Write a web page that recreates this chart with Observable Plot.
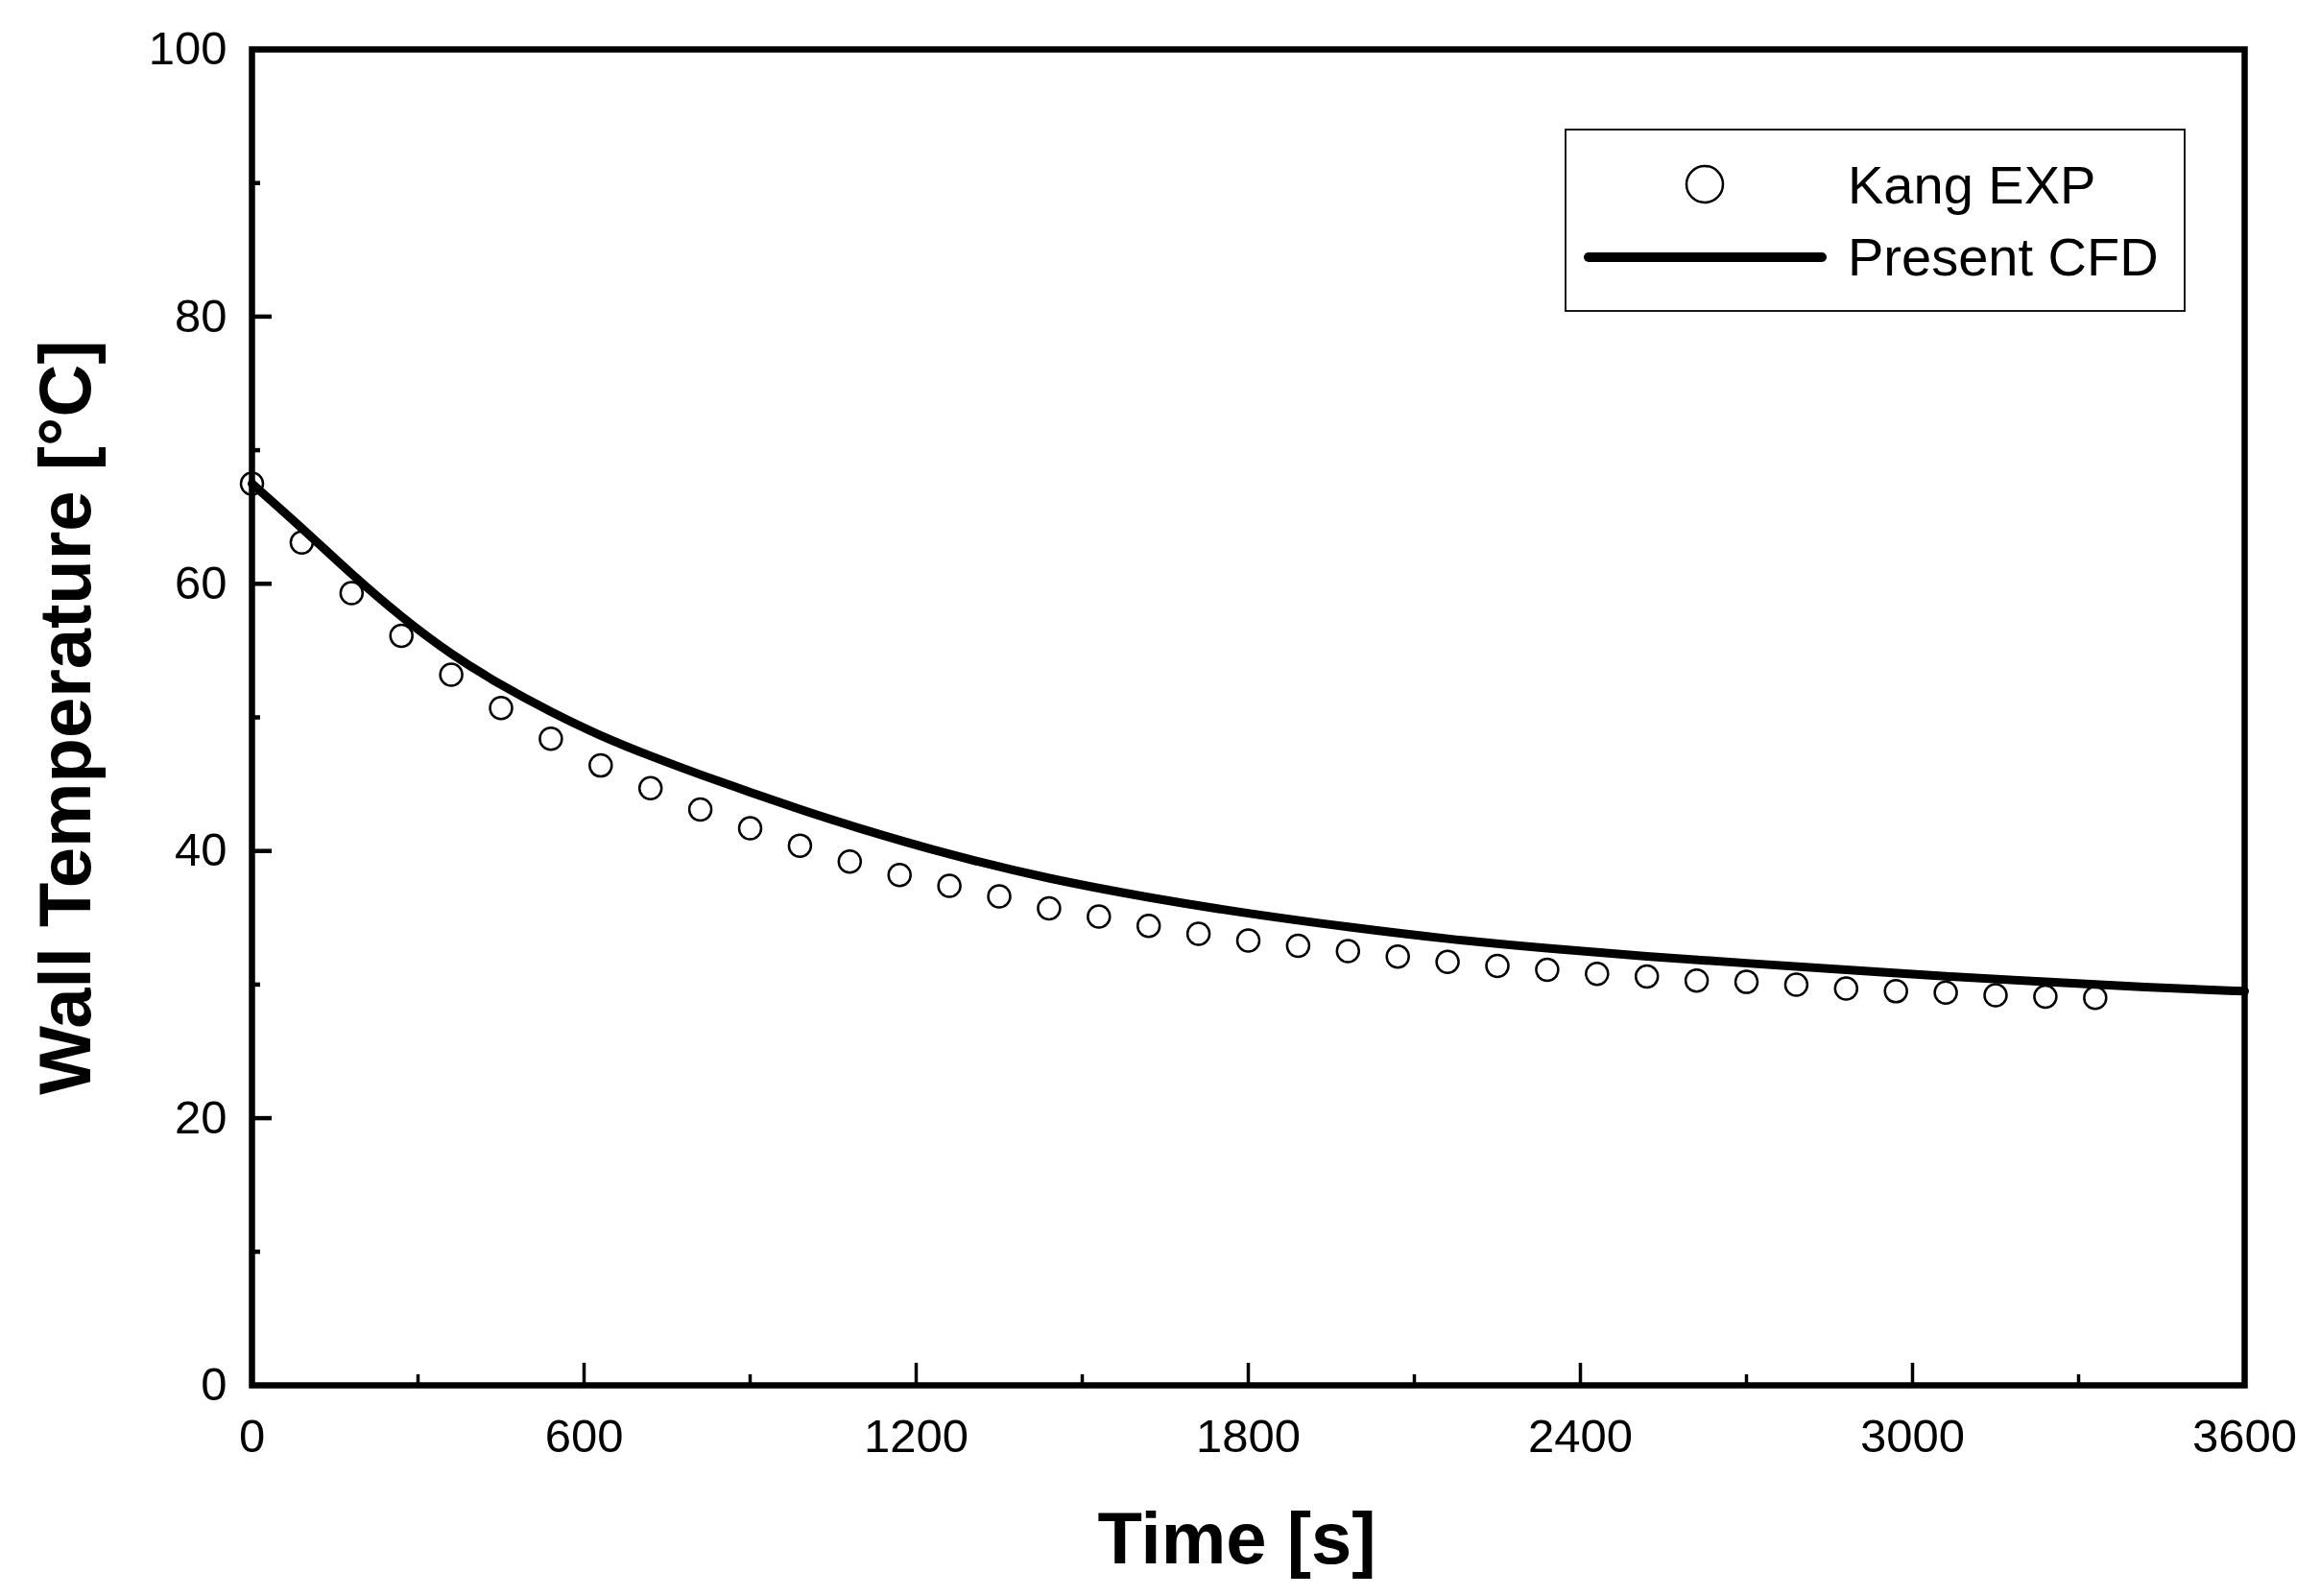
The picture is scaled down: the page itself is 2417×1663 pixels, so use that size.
<!DOCTYPE html>
<html>
<head>
<meta charset="utf-8">
<script src="https://cdn.jsdelivr.net/npm/d3@7"></script>
<script src="https://cdn.jsdelivr.net/npm/@observablehq/plot@0.6"></script>
<style>
  html, body { margin: 0; padding: 0; background: #fff; }
  #chart svg { display: block; }
</style>
</head>
<body>
<div id="chart"></div>
<script>
// ---- Data ----
const expTime = [0, 90, 180, 270, 360, 450, 540, 630, 720, 810, 900, 990, 1080, 1170, 1260, 1350, 1440, 1530, 1620, 1710, 1800, 1890, 1980, 2070, 2160, 2250, 2340, 2430, 2520, 2610, 2700, 2790, 2880, 2970, 3060, 3150, 3240, 3330];
const expTemp = [67.5, 63.1, 59.3, 56.1, 53.2, 50.7, 48.4, 46.4, 44.7, 43.1, 41.7, 40.4, 39.2, 38.2, 37.4, 36.6, 35.7, 35.1, 34.4, 33.8, 33.3, 32.9, 32.5, 32.1, 31.7, 31.4, 31.1, 30.8, 30.6, 30.3, 30.2, 30.0, 29.7, 29.5, 29.4, 29.2, 29.1, 29.0];

const cfdTime = [0, 90, 180, 270, 360, 450, 540, 630, 720, 810, 900, 990, 1080, 1260, 1440, 1620, 1800, 1980, 2160, 2340, 2520, 2700, 2880, 3060, 3240, 3420, 3600];
const cfdTemp = [67.5, 64.2, 60.7, 57.5, 54.7, 52.4, 50.4, 48.6, 47.1, 45.7, 44.4, 43.1, 41.9, 39.7, 37.9, 36.5, 35.3, 34.3, 33.4, 32.7, 32.1, 31.6, 31.1, 30.6, 30.2, 29.8, 29.5];

const xMajor = [0, 600, 1200, 1800, 2400, 3000, 3600];
const xMinor = [300, 900, 1500, 2100, 2700, 3300];
const yMajor = [0, 20, 40, 60, 80, 100];
const yMinor = [10, 30, 50, 70, 90];

const seriesNames = ["Kang EXP", "Present CFD"];
const xTitle = "Time [s]";
const yTitle = "Wall Temperature [\u00B0C]";

// ---- Tables built from the arrays ----
const expData = expTime.map((t, i) => ({t, v: expTemp[i]}));
const cfdData = cfdTime.map((t, i) => ({t, v: cfdTemp[i]}));

// ---- Layout ----
const W = 2417, H = 1663;
const mL = 262, mR = 79, mT = 51, mB = 220;
const pw = W - mL - mR, ph = H - mT - mB;
const font = "'Liberation Sans', Arial, Helvetica, sans-serif";

const svg = Plot.plot({
  width: W,
  height: H,
  marginLeft: mL, marginRight: mR, marginTop: mT, marginBottom: mB,
  style: {fontFamily: font, background: "white", color: "black"},
  x: {domain: [0, 3600]},
  y: {domain: [0, 100]},
  marks: [
    Plot.dot(expData, {x: "t", y: "v", r: 11.5, stroke: "black", strokeWidth: 2.5, fill: "none"}),
    Plot.line(cfdData, {x: "t", y: "v", stroke: "black", strokeWidth: 9, curve: "basis", strokeLinecap: "round"}),
    Plot.tickY(yMajor, {y: d => d, insetRight: pw - 21, stroke: "black", strokeWidth: 4.5}),
    Plot.tickY(yMinor, {y: d => d, insetRight: pw - 9, stroke: "black", strokeWidth: 4.5}),
    Plot.tickX(xMajor, {x: d => d, insetTop: ph - 23, stroke: "black", strokeWidth: 3.5}),
    Plot.tickX(xMinor, {x: d => d, insetTop: ph - 11, stroke: "black", strokeWidth: 3.5}),
    Plot.frame({stroke: "black", strokeWidth: 6.5}),
    Plot.axisX({ticks: xMajor, tickSize: 0, tickPadding: 35, fontSize: 49, label: null, tickFormat: d => String(d)}),
    Plot.axisY({ticks: yMajor, tickSize: 0, tickPadding: 26, fontSize: 49, label: null, tickFormat: d => String(d)}),
    Plot.text([xTitle], {frameAnchor: "bottom", lineAnchor: "middle", textAnchor: "middle", dy: 161, dx: -12, fontSize: 76, fontWeight: "bold", fill: "black"}),
    Plot.text([yTitle], {frameAnchor: "left", lineAnchor: "middle", textAnchor: "middle", dx: -193, dy: 0, rotate: -90, fontSize: 76, fontWeight: "bold", fill: "black"})
  ]
});

// ---- Legend inside the plot (top right) ----
const g = d3.select(svg).append("g").attr("font-family", font);
g.append("rect")
  .attr("x", 1631).attr("y", 135).attr("width", 2276 - 1631).attr("height", 324 - 135)
  .attr("fill", "white").attr("stroke", "black").attr("stroke-width", 1.8);
g.append("circle")
  .attr("cx", 1776).attr("cy", 192).attr("r", 19)
  .attr("fill", "none").attr("stroke", "black").attr("stroke-width", 2.5);
g.append("line")
  .attr("x1", 1655).attr("x2", 1898).attr("y1", 268).attr("y2", 268)
  .attr("stroke", "black").attr("stroke-width", 10).attr("stroke-linecap", "round");
g.append("text").attr("x", 1925).attr("y", 212).attr("font-size", 56).attr("text-anchor", "start").attr("fill", "black").text(seriesNames[0]);
g.append("text").attr("x", 1925).attr("y", 287).attr("font-size", 56).attr("text-anchor", "start").attr("fill", "black").text(seriesNames[1]);

document.getElementById("chart").appendChild(svg);
</script>
</body>
</html>
